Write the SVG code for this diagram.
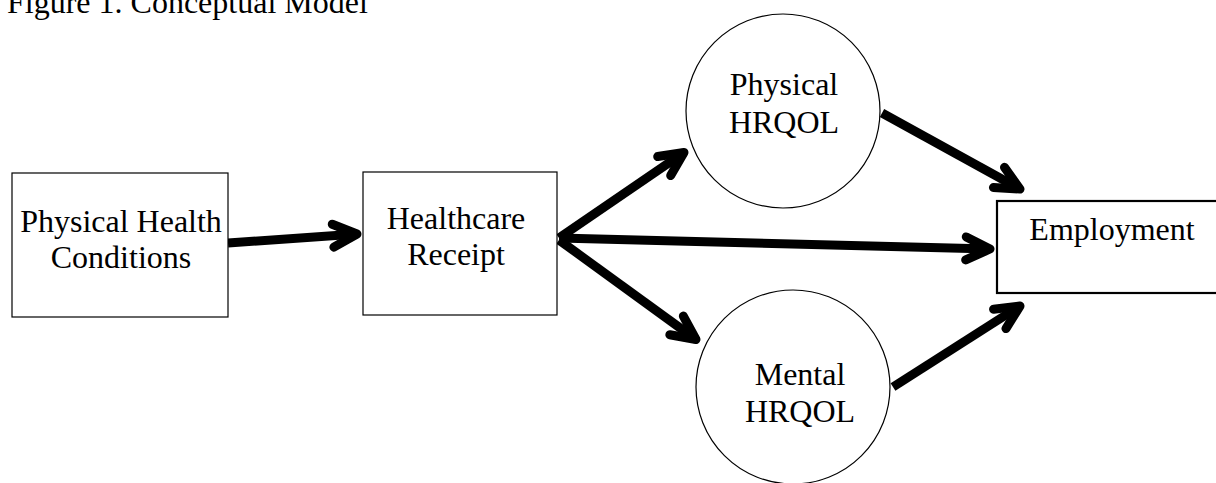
<svg xmlns="http://www.w3.org/2000/svg" width="1216" height="483" viewBox="0 0 1216 483">
  <style>
    text { font-family: "Liberation Serif", "Times New Roman", serif; font-size: 32px; fill: #000; }
    .lbl { text-anchor: middle; }
    .box { fill: #fff; stroke: #000; stroke-width: 1.2; }
    .circ { fill: #fff; stroke: #000; stroke-width: 1.2; }
    .arrow { fill: none; stroke: #000; stroke-width: 9; stroke-linecap: butt; marker-end: url(#chev); }
  </style>
  <defs>
    <!-- open chevron head, sized in user units so it keeps its shape -->
    <marker id="chev" markerUnits="userSpaceOnUse" orient="auto" viewBox="-40 -25 50 50" markerWidth="50" markerHeight="50" refX="0" refY="0" overflow="visible">
      <path d="M -24,-11.5 L 0,0 L -24,11.5" fill="none" stroke="#000" stroke-width="9" stroke-linecap="round" stroke-linejoin="round"/>
    </marker>
  </defs>

  <rect width="1216" height="483" fill="#fff"/>

  <text x="7" y="13">Figure 1. Conceptual Model</text>

  <g id="connectors">
    <path class="arrow" d="M 228,243 L 357,234"/>
    <path class="arrow" d="M 559,238 L 684,152.5"/>
    <path class="arrow" d="M 559,238 L 990,249"/>
    <path class="arrow" d="M 559,240 L 696,339.5"/>
    <path class="arrow" d="M 882,113 L 1020,189"/>
    <path class="arrow" d="M 893,387 L 1020,306"/>
  </g>

  <g id="physical-health-conditions">
    <rect class="box" x="12" y="173" width="216" height="144"/>
    <text class="lbl" x="121" y="232">Physical Health</text>
    <text class="lbl" x="121" y="268">Conditions</text>
  </g>

  <g id="healthcare-receipt">
    <rect class="box" x="363" y="172" width="194" height="143" stroke="#333"/>
    <text class="lbl" x="456" y="229">Healthcare</text>
    <text class="lbl" x="456" y="265">Receipt</text>
  </g>

  <g id="physical-hrqol">
    <circle class="circ" cx="783" cy="111" r="97"/>
    <text class="lbl" x="784" y="95">Physical</text>
    <text class="lbl" x="784" y="133">HRQOL</text>
  </g>

  <g id="mental-hrqol">
    <circle class="circ" cx="793" cy="387" r="97"/>
    <text class="lbl" x="800" y="385">Mental</text>
    <text class="lbl" x="800" y="422">HRQOL</text>
  </g>

  <g id="employment">
    <rect x="997" y="201" width="240" height="92" fill="#fff" stroke="#000" stroke-width="2.2"/>
    <text class="lbl" x="1112" y="240">Employment</text>
  </g>
</svg>
